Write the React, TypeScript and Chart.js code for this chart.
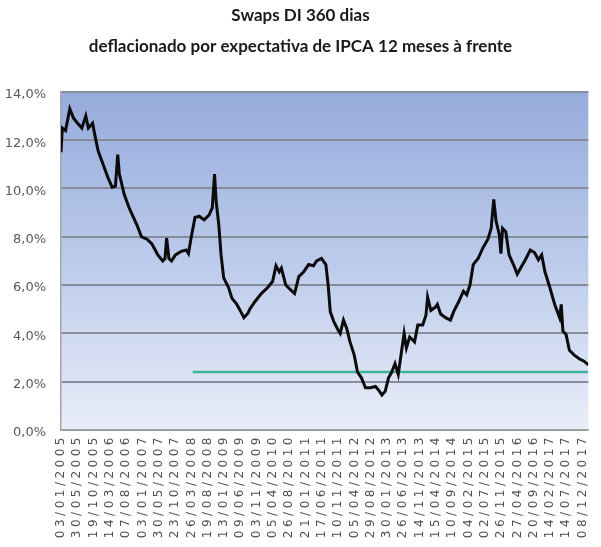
import React, { useEffect, useRef } from 'react';
import { Chart, registerables, LinearScale } from 'chart.js';

// ---- data ----
const titleLines = ['Swaps DI 360 dias', 'deflacionado por expectativa de IPCA 12 meses à frente'];

const tickLabels = [
  '03/01/2005', '30/05/2005', '19/10/2005', '14/03/2006', '07/08/2006', '03/01/2007',
  '30/05/2007', '23/10/2007', '26/03/2008', '19/08/2008', '13/01/2009', '09/06/2009',
  '03/11/2009', '05/04/2010', '26/08/2010', '21/01/2011', '17/06/2011', '10/11/2011',
  '05/04/2012', '29/08/2012', '30/01/2013', '26/06/2013', '14/11/2013', '15/04/2014',
  '10/09/2014', '04/02/2015', '02/07/2015', '26/11/2015', '27/04/2016', '20/09/2016',
  '14/02/2017', '14/07/2017', '08/12/2017',
];

// position of each reading, in units of the tick-label interval (0 = 03/01/2005)
const swapPos = [
  0.0, 0.08, 0.28, 0.54, 0.78, 1.02, 1.28, 1.52, 1.68, 1.94, 2.08, 2.28, 2.58, 2.88, 3.14, 3.34,
  3.48, 3.58, 3.88, 4.18, 4.38, 4.68, 4.94, 5.28, 5.58, 5.94, 6.24, 6.38, 6.48, 6.62, 6.78, 7.02,
  7.38, 7.68, 7.82, 7.98, 8.22, 8.48, 8.78, 9.08, 9.28, 9.42, 9.52, 9.68, 9.82, 9.98, 10.28, 10.49,
  10.79, 11.03, 11.22, 11.48, 11.58, 11.88, 12.29, 12.68, 12.98, 13.19, 13.39, 13.52, 13.79, 14.09,
  14.33, 14.59, 14.89, 15.19, 15.49, 15.68, 15.98, 16.25, 16.39, 16.52, 16.73, 16.99, 17.13, 17.33,
  17.53, 17.73, 17.99, 18.19, 18.44, 18.68, 18.98, 19.29, 19.49, 19.69, 19.89, 20.09, 20.29, 20.49,
  20.69, 20.89, 21.05, 21.19, 21.39, 21.69, 21.89, 22.19, 22.39, 22.49, 22.69, 22.99, 23.09, 23.29,
  23.59, 23.89, 24.09, 24.39, 24.69, 24.89, 25.09, 25.29, 25.59, 25.89, 26.19, 26.39, 26.55, 26.69,
  26.89, 26.99, 27.09, 27.29, 27.49, 27.79, 27.99, 28.19, 28.49, 28.79, 29.05, 29.29, 29.49, 29.69,
  29.99, 30.29, 30.59, 30.69, 30.79, 30.99, 31.19, 31.49, 31.79, 32.09, 32.35,
];

// real swap rate, % a.a.
const swapRate = [
  11.5, 12.5, 12.4, 13.3, 12.9, 12.7, 12.5, 13.0, 12.5, 12.7, 12.2, 11.55, 11.0, 10.45, 10.05, 10.1,
  11.4, 10.6, 9.75, 9.2, 8.9, 8.45, 8.0, 7.9, 7.7, 7.25, 7.0, 7.1, 7.95, 7.1, 7.0, 7.25,
  7.4, 7.45, 7.3, 7.95, 8.8, 8.85, 8.7, 8.9, 9.2, 10.6, 9.45, 8.5, 7.25, 6.3, 5.9, 5.45,
  5.2, 4.9, 4.65, 4.85, 5.0, 5.3, 5.65, 5.9, 6.15, 6.8, 6.55, 6.7, 6.0, 5.8,
  5.65, 6.35, 6.55, 6.85, 6.8, 7.0, 7.1, 6.85, 6.0, 4.9, 4.5, 4.15, 4.0, 4.55,
  4.2, 3.65, 3.1, 2.4, 2.15, 1.75, 1.75, 1.8, 1.65, 1.45, 1.6, 2.15, 2.4, 2.75,
  2.3, 3.25, 4.0, 3.4, 3.85, 3.65, 4.35, 4.35, 4.75, 5.5, 4.95, 5.1, 5.2, 4.8,
  4.65, 4.55, 4.9, 5.3, 5.75, 5.6, 6.0, 6.85, 7.1, 7.55, 7.9, 8.35, 9.55, 8.65,
  8.1, 7.3, 8.35, 8.2, 7.25, 6.8, 6.45, 6.7, 7.05, 7.45, 7.35, 7.05, 7.25, 6.55,
  5.9, 5.2, 4.65, 5.2, 4.1, 3.95, 3.3, 3.1, 2.95, 2.85, 2.7,
];

const refPos = [8.08, 32.35];
const refRate = [2.4, 2.4];

// ---- chart helpers ----
class SpacedLinearScale extends LinearScale {
  static id = 'spacedLinear';
  static defaults = LinearScale.defaults;
  drawLabels(chartArea: any) {
    const ctx: any = this.ctx;
    const prev = ctx.letterSpacing;
    ctx.letterSpacing = '3.5px';
    super.drawLabels(chartArea);
    ctx.letterSpacing = prev ?? '0px';
  }
}

Chart.register(...registerables, SpacedLinearScale);

const plotBackground = {
  id: 'plotBackground',
  beforeDraw(chart: any) {
    const { ctx, chartArea: a } = chart;
    if (!a) return;
    const g = ctx.createLinearGradient(0, a.top, 0, a.bottom);
    g.addColorStop(0, '#95abdb');
    g.addColorStop(0.5, '#bccbeb');
    g.addColorStop(1, '#e9edf8');
    ctx.save();
    ctx.fillStyle = g;
    ctx.fillRect(a.left, a.top, a.right - a.left, a.bottom - a.top);
    ctx.restore();
  },
};

const pctLabel = (v: number) => v.toFixed(1).replace('.', ',') + '%';

export default function App() {
  const ref = useRef<HTMLCanvasElement>(null);

  useEffect(() => {
    document.body.style.margin = '0';
    const canvas = ref.current!;
    const chart = new Chart(canvas, {
      type: 'line',
      data: {
        datasets: [
          {
            label: 'Swap DI 360 real',
            data: swapPos.map((x, i) => ({ x, y: swapRate[i] })),
            borderColor: '#0b0b0b',
            borderWidth: 3,
            pointRadius: 0,
            tension: 0,
            order: 0,
          },
          {
            label: 'Referência',
            data: refPos.map((x, i) => ({ x, y: refRate[i] })),
            borderColor: '#3bb596',
            borderWidth: 2.5,
            pointRadius: 0,
            order: 1,
          },
        ],
      },
      options: {
        responsive: false,
        animation: false,
        layout: { padding: { left: 0, right: 0, top: 0, bottom: 0 } },
        plugins: {
          legend: { display: false },
          tooltip: { enabled: false },
          title: {
            display: true,
            text: titleLines,
            color: '#1a1a1a',
            font: { family: 'Lato', weight: 'bold', size: 17, lineHeight: 1.82 },
            padding: { top: 0, bottom: 30 },
          },
        },
        scales: {
          x: {
            type: 'spacedLinear' as any,
            min: 0,
            max: 32.35,
            grid: { display: false, drawTicks: false },
            border: { display: true, color: '#a6a6a6', width: 1.5 },
            afterBuildTicks: (axis: any) => {
              axis.ticks = tickLabels.map((_, i) => ({ value: i }));
            },
            afterFit: (s: any) => {
              s.height = 117;
            },
            ticks: {
              autoSkip: false,
              maxRotation: 90,
              minRotation: 90,
              padding: 4,
              color: '#505050',
              font: { family: 'DejaVu Sans', size: 12 },
              callback: (v: any) => tickLabels[v] ?? '',
            },
          },
          y: {
            min: 0,
            max: 14,
            grid: { color: '#878d98', lineWidth: 2, drawTicks: false },
            border: { display: true, color: '#a6a6a6', width: 1.5 },
            afterFit: (s: any) => {
              s.width = 61;
            },
            ticks: {
              stepSize: 2,
              padding: 15,
              labelOffset: 3,
              color: '#595959',
              font: { family: 'DejaVu Sans', size: 13 },
              callback: (v: any) => pctLabel(Number(v)),
            },
          },
        },
      },
      plugins: [plotBackground],
    });
    return () => chart.destroy();
  }, []);

  return (
    <div style={{ width: 601, height: 547 }}>
      <canvas ref={ref} width={601} height={547} />
    </div>
  );
}
